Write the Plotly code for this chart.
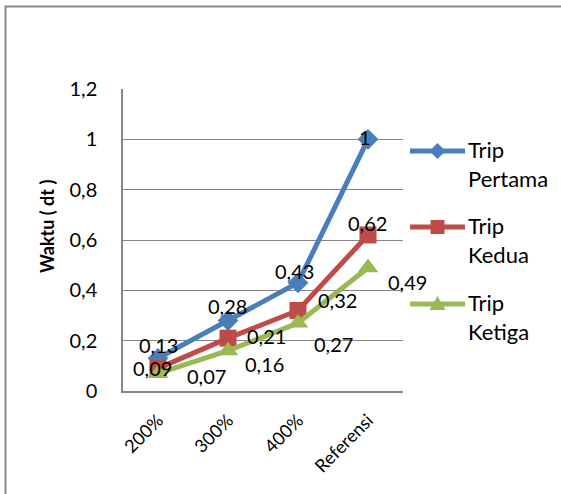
import plotly.graph_objects as go

categories = ["200%", "300%", "400%", "Referensi"]
series_names = ["Trip Pertama", "Trip Kedua", "Trip Ketiga"]
trip_pertama = [0.13, 0.28, 0.43, 1.0]
trip_kedua = [0.09, 0.21, 0.32, 0.62]
trip_ketiga = [0.07, 0.16, 0.27, 0.49]
y_ticks = [0, 0.2, 0.4, 0.6, 0.8, 1.0, 1.2]

series = [trip_pertama, trip_kedua, trip_ketiga]
colors = ["#4A7EBB", "#BE4B48", "#98B954"]
symbols = ["diamond", "square", "triangle-up"]
msizes = [16, 17, 18]
# label offsets (px) right, up
label_offsets = [
    [(0, 13), (-1, 15), (-4, 12), (-3, 2)],
    [(-6, 0), (38, 2), (39, 10), (-1, 12)],
    [(48, -3), (36, -13), (35, -21), (39, -14)],
]

W, H = 561, 494
L, R, T, B = 123, 403, 89, 391
pw, ph = R - L, B - T


def px(x):
    return (x - L) / pw


def py(y):
    return 1 - (y - T) / ph


FONT = "Lato"
fig = go.Figure()
for name, vals, c, s, ms in zip(series_names, series, colors, symbols, msizes):
    fig.add_trace(go.Scatter(
        x=categories, y=vals, name=name, mode="lines+markers",
        line=dict(color=c, width=5),
        marker=dict(symbol=s, size=ms, color=c),
        showlegend=False,
    ))

annotations = []
for vals, offs in zip(series, label_offsets):
    for cat, v, (dx, dy) in zip(categories, vals, offs):
        annotations.append(dict(
            x=cat, y=v, xref="x", yref="y", text=f"{v:g}".replace(".", ","),
            showarrow=False, xshift=dx, yshift=dy,
            font=dict(family=FONT, size=20, color="#000000"),
        ))

# axis title
annotations.append(dict(
    x=px(47), y=py(227), xref="paper", yref="paper", text="<b>Waktu ( dt )</b>",
    textangle=-90, showarrow=False, xanchor="center", yanchor="middle",
    font=dict(family=FONT, size=18, color="#000000"),
))

shapes = [dict(
    type="rect", xref="paper", yref="paper",
    x0=px(5.5), x1=px(700), y0=py(700), y1=py(6.5),
    line=dict(color="#898989", width=2), fillcolor="rgba(0,0,0,0)", layer="below",
)]

# manual legend
legend_y = [151, 227, 304]
marker_paths = [
    "M0,8L8,0L0,-8L-8,0Z",
    "M-7,-7H7V7H-7Z",
    "M0,8L8,-6L-8,-6Z",
]
for name, c, ly, mp in zip(series_names, colors, legend_y, marker_paths):
    shapes.append(dict(type="line", xref="paper", yref="paper",
                       x0=px(410), x1=px(465), y0=py(ly), y1=py(ly),
                       line=dict(color=c, width=5)))
    shapes.append(dict(type="path", xref="paper", yref="paper",
                       xsizemode="pixel", ysizemode="pixel",
                       xanchor=px(437.5), yanchor=py(ly), path=mp,
                       fillcolor=c, line=dict(color=c, width=0)))
    annotations.append(dict(
        x=px(466), y=py(ly + 13), xref="paper", yref="paper",
        text=name.replace(" ", "<br>"), align="left",
        showarrow=False, xanchor="left", yanchor="middle",
        font=dict(family=FONT, size=22, color="#000000"),
    ))

fig.update_layout(
    width=W, height=H,
    margin=dict(l=L, r=W - R, t=T, b=H - B, pad=0),
    paper_bgcolor="white", plot_bgcolor="white",
    separators=",.",
    showlegend=False,
    annotations=annotations,
    shapes=shapes,
    xaxis=dict(
        type="category", categoryorder="array", categoryarray=categories,
        range=[-0.5, 3.5], showgrid=False, showline=True,
        linecolor="#868686", linewidth=1.5, ticks="", tickangle=-45,
        tickfont=dict(family=FONT, size=18, color="#000000"),
        ticklabelstandoff=10, zeroline=False,
    ),
    yaxis=dict(
        range=[0, 1.2], tickvals=y_ticks, showgrid=True, gridcolor="#868686",
        gridwidth=1.2, showline=True, linecolor="#868686", linewidth=1.5,
        ticks="", tickfont=dict(family=FONT, size=20, color="#000000"),
        ticklabelstandoff=20, zeroline=False,
    ),
)

fig.write_html("out.html")
